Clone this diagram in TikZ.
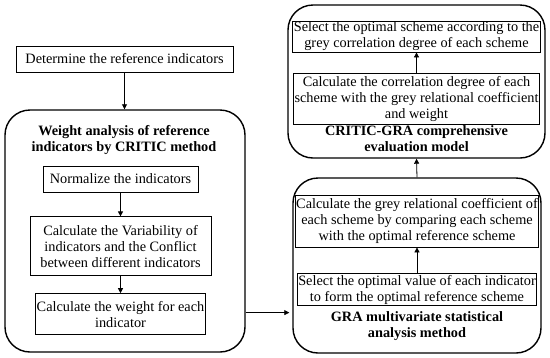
\documentclass[tikz,border=0pt]{standalone}
\usepackage{fontspec}
\setmainfont{Liberation Serif}
\usepackage{tikz}
\usetikzlibrary{positioning, arrows.meta, calc}

\begin{document}
\begin{tikzpicture}[x=1pt, y=-1pt,
                inbox/.style={draw=black, line width=0.8pt, rectangle, align=center, inner sep=1pt, font=\fontsize{14.3}{16}\selectfont},
                outbox/.style={draw=black, line width=1.4pt, rectangle, rounded corners=25pt},
                boxtitle/.style={align=center, font=\fontsize{14.3}{16}\selectfont\bfseries},
                edge/.style={line width=0.8pt, -{Triangle[width=5pt, length=5pt]}}
            ]
            \useasboundingbox (0,0) rectangle (550,357);

            % Knoten links
            \node[inbox, minimum width=217pt, minimum height=26pt] (det) at (124.5,59) {Determine the reference indicators};
            \node[outbox, minimum width=240pt, minimum height=242pt] (critic) at (125,231) {};
            \node[boxtitle] (crititle) at (124,140.5) {Weight analysis of reference\\indicators by CRITIC method};
            \node[inbox, minimum width=155pt, minimum height=26pt] (norm) at (120.5,179) {Normalize the indicators};
            \node[inbox, minimum width=181pt, minimum height=59pt, below=24pt of norm] (vari) {Calculate the Variability of\\indicators and the Conflict\\between different indicators};
            \node[inbox, minimum width=167pt, minimum height=41pt, below=17pt of vari] (wgt) {Calculate the weight for each\\indicator};

            % Knoten rechts unten
            \node[outbox, minimum width=248pt, minimum height=175pt] (gra) at (417,265.5) {};
            \node[inbox, minimum width=240pt, minimum height=52pt] (coef) at (417,221) {Calculate the grey relational coefficient of\\each scheme by comparing each scheme\\with the optimal reference scheme};
            \node[inbox, minimum width=233pt, minimum height=32pt, below=26pt of coef] (opt) {Select the optimal value of each indicator\\to form the optimal reference scheme};
            \node[boxtitle] (gratitle) at (417,326) {GRA multivariate statistical\\analysis method};

            % Knoten rechts oben
            \node[outbox, minimum width=257pt, minimum height=153pt] (cgra) at (416.5,81.5) {};
            \node[inbox, minimum width=239pt, minimum height=27pt] (sel) at (416.5,36.5) {Select the optimal scheme according to the\\grey correlation degree of each scheme};
            \node[inbox, minimum width=239pt, minimum height=51pt, below=21pt of sel] (corr) {Calculate the correlation degree of each\\scheme with the grey relational coefficient\\and weight};
            \node[boxtitle] (cgtitle) at (416.5,139) {CRITIC-GRA comprehensive\\evaluation model};

            % Kanten zwischen Knoten
            \draw[edge] (det.south) -- (critic.north -| det.south);
            \draw[edge] (norm.south) -- (vari.north -| norm.south);
            \draw[edge] (vari.south -| wgt.north) -- (wgt.north);
            \draw[edge] ($(critic.east |- wgt)+(0,-1.5)$) -- ($(gra.west |- wgt)+(-3,-1.5)$);
            \draw[edge] (opt.north -| coef.south) -- (coef.south);
            \draw[edge] (gra.north) -- (cgra.south);
            \draw[edge] (corr.north) -- (sel.south);

        \end{tikzpicture}
\end{document}
